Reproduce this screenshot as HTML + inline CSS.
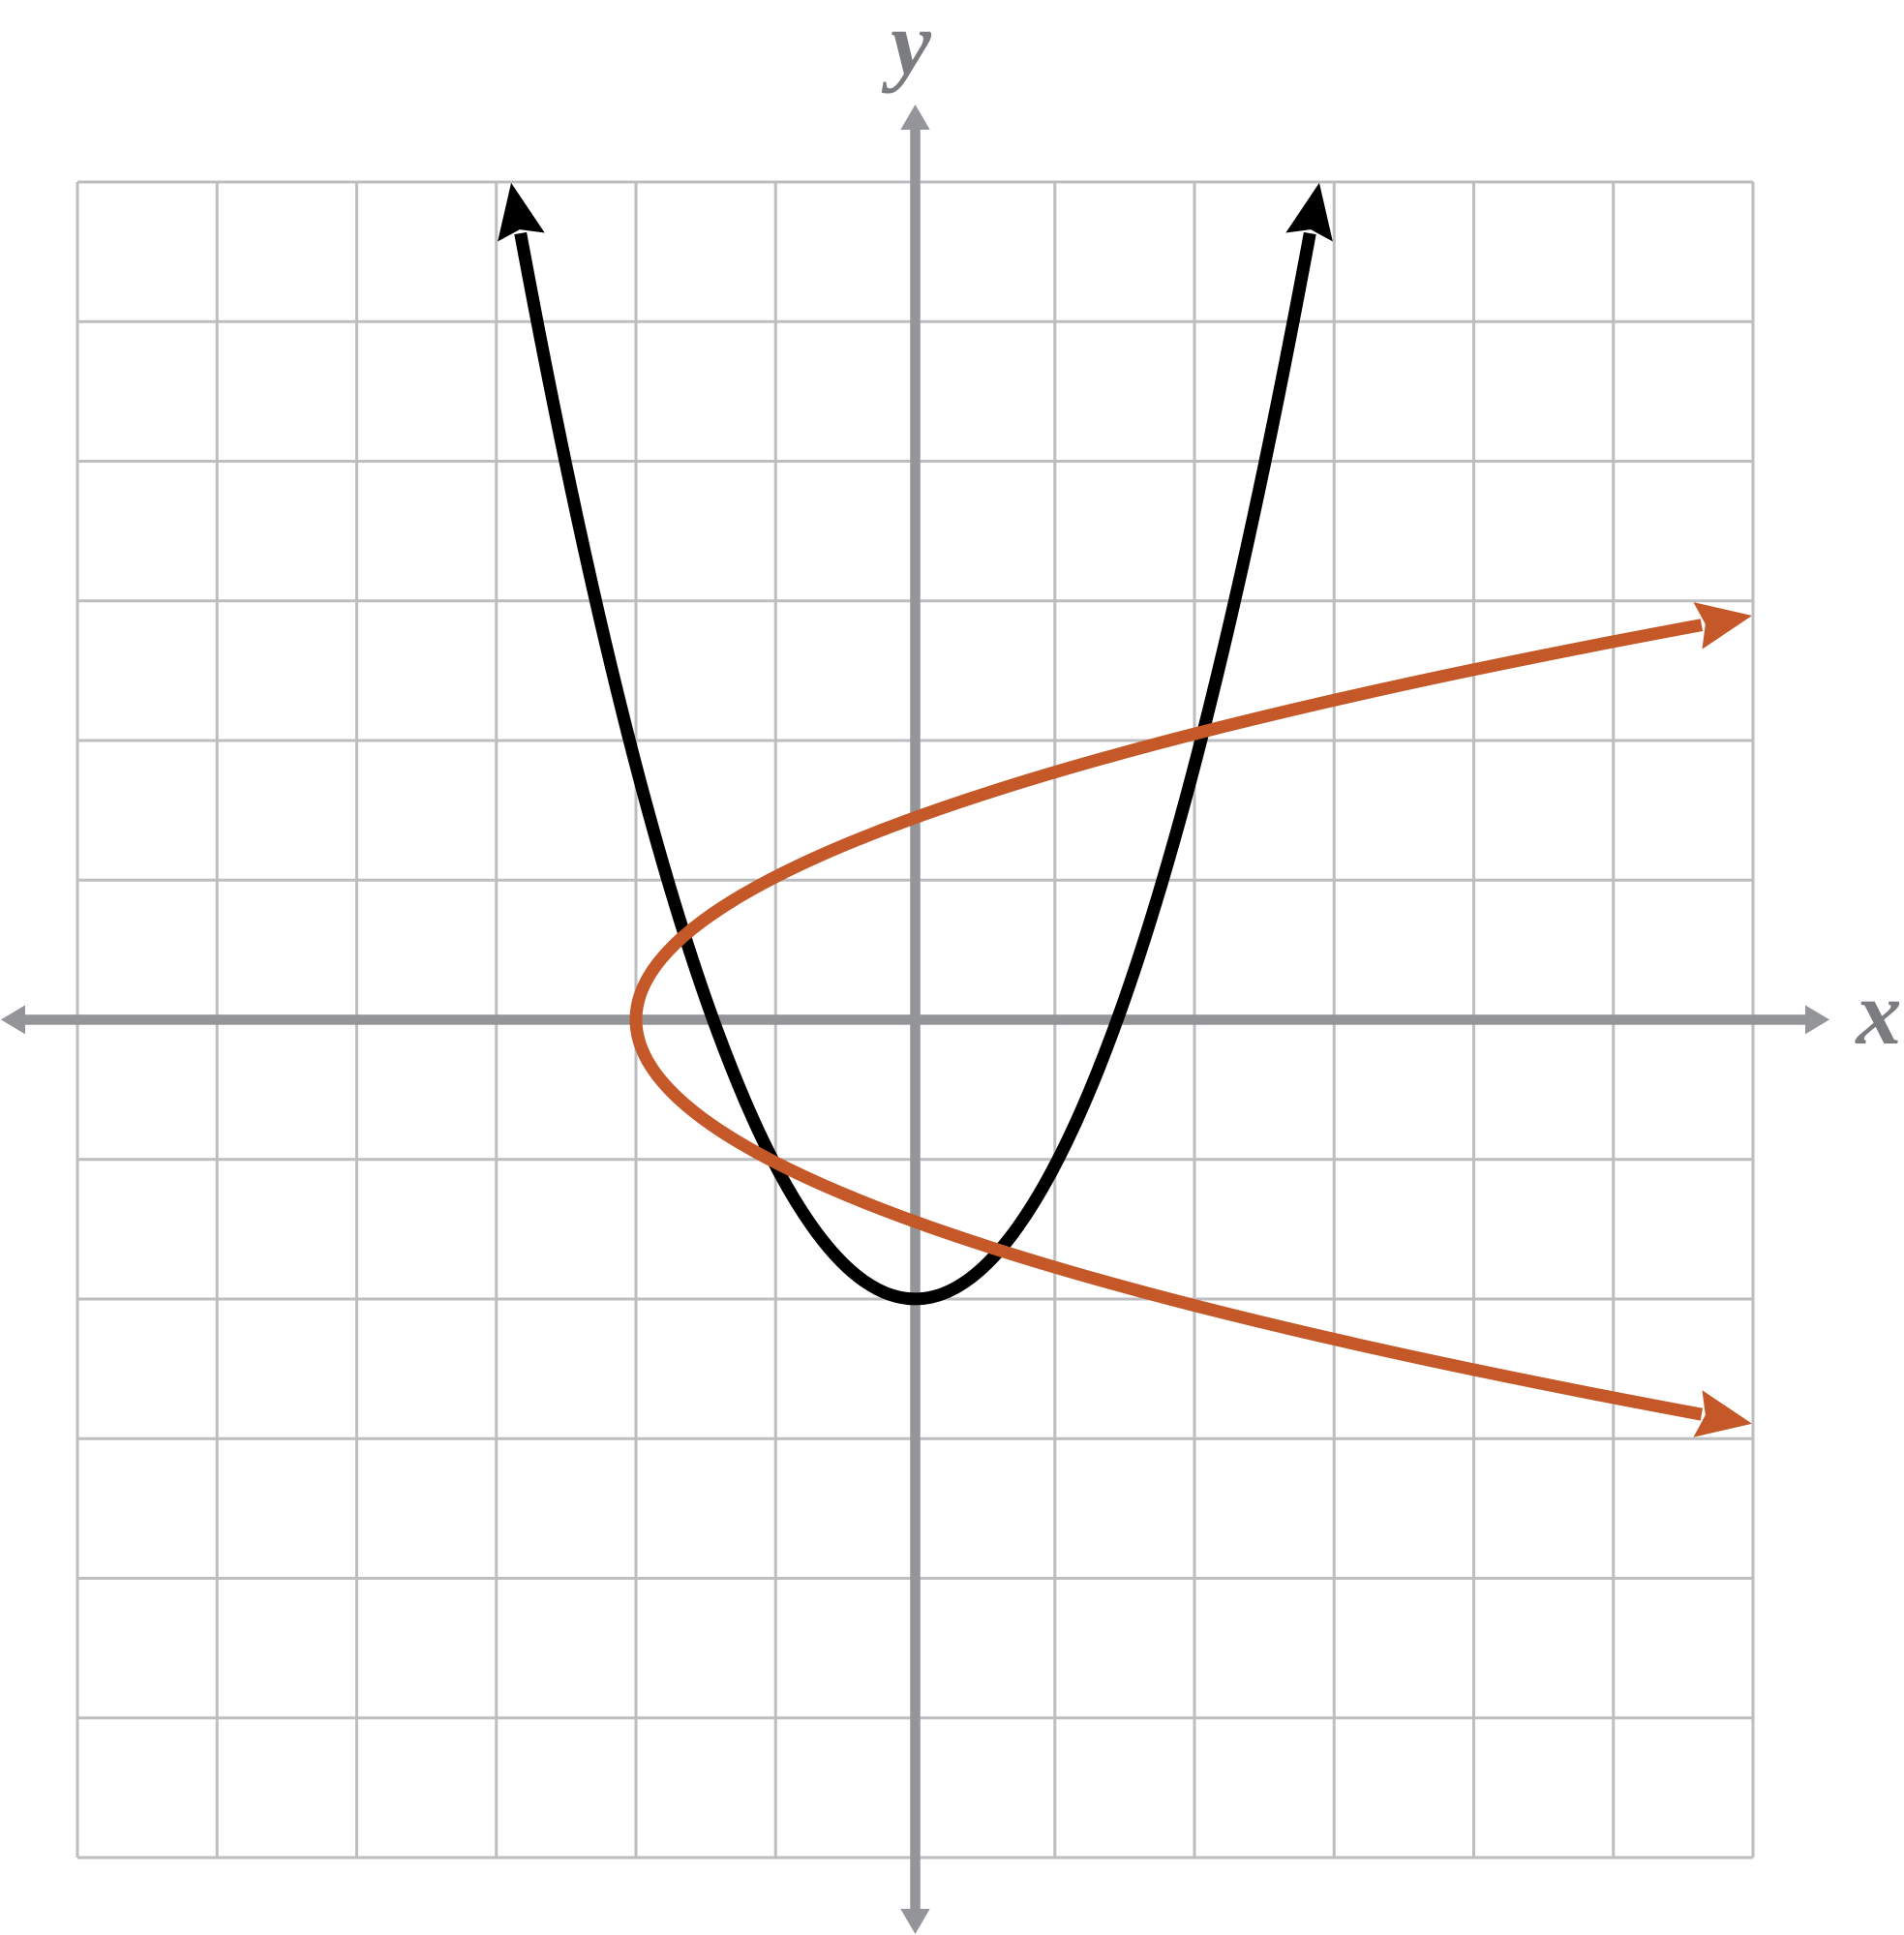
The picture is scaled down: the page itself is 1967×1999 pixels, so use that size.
<!DOCTYPE html>
<html>
<head>
<meta charset="utf-8">
<style>
  html, body { margin: 0; padding: 0; background: #ffffff; }
  svg { display: block; }
</style>
</head>
<body>
<svg width="1967" height="1999" viewBox="0 0 1967 1999" xmlns="http://www.w3.org/2000/svg">
  <rect x="0" y="0" width="1967" height="1999" fill="#ffffff"/>
  <!-- grid -->
  <g stroke="#bcbec0" stroke-width="3" fill="none">
    <line x1="80" y1="188" x2="80" y2="1919"/>
    <line x1="224.25" y1="188" x2="224.25" y2="1919"/>
    <line x1="368.5" y1="188" x2="368.5" y2="1919"/>
    <line x1="512.75" y1="188" x2="512.75" y2="1919"/>
    <line x1="657" y1="188" x2="657" y2="1919"/>
    <line x1="801.25" y1="188" x2="801.25" y2="1919"/>
    <line x1="945.5" y1="188" x2="945.5" y2="1919"/>
    <line x1="1089.75" y1="188" x2="1089.75" y2="1919"/>
    <line x1="1234" y1="188" x2="1234" y2="1919"/>
    <line x1="1378.25" y1="188" x2="1378.25" y2="1919"/>
    <line x1="1522.5" y1="188" x2="1522.5" y2="1919"/>
    <line x1="1666.75" y1="188" x2="1666.75" y2="1919"/>
    <line x1="1811" y1="188" x2="1811" y2="1919"/>

    <line x1="80" y1="188" x2="1811" y2="188"/>
    <line x1="80" y1="332.25" x2="1811" y2="332.25"/>
    <line x1="80" y1="476.5" x2="1811" y2="476.5"/>
    <line x1="80" y1="620.75" x2="1811" y2="620.75"/>
    <line x1="80" y1="765" x2="1811" y2="765"/>
    <line x1="80" y1="909.25" x2="1811" y2="909.25"/>
    <line x1="80" y1="1053.5" x2="1811" y2="1053.5"/>
    <line x1="80" y1="1197.75" x2="1811" y2="1197.75"/>
    <line x1="80" y1="1342" x2="1811" y2="1342"/>
    <line x1="80" y1="1486.25" x2="1811" y2="1486.25"/>
    <line x1="80" y1="1630.5" x2="1811" y2="1630.5"/>
    <line x1="80" y1="1774.75" x2="1811" y2="1774.75"/>
    <line x1="80" y1="1919" x2="1811" y2="1919"/>
  </g>

  <!-- axes -->
  <g fill="#939598" stroke="none">
    <rect x="20" y="1048.2" width="1852" height="10.5"/>
    <polygon points="1,1053.4 26,1038.4 26,1068.4"/>
    <polygon points="1890,1053.4 1865,1038.4 1865,1068.4"/>
    <rect x="940.25" y="125" width="10.5" height="1852"/>
    <polygon points="945.5,108 930.3,134 960.7,134"/>
    <polygon points="945.5,1998 930.3,1972 960.7,1972"/>
  </g>

  <!-- black parabola y = 0.955x^2 - 2 -->
  <path d="M537.7,241.0 Q945.5,2442.8 1353.3,241.0" fill="none" stroke="#000000" stroke-width="13"/>
  <polygon points="0,0 -57,-24.7 -49,0 -57,24.7" fill="#000000" transform="translate(528.05,188.9) rotate(-100.49)"/>
  <polygon points="0,0 -57,-24.7 -49,0 -57,24.7" fill="#000000" transform="translate(1362.95,188.9) rotate(-79.51)"/>

  <!-- orange sideways parabola x = 0.955y^2 - 2 -->
  <path d="M1757.9,645.6 Q-443.9,1053.4 1757.9,1461.2" fill="none" stroke="#c45828" stroke-width="13"/>
  <polygon points="0,0 -57,-24.7 -49,0 -57,24.7" fill="#c45828" transform="translate(1810,636) rotate(-10.49)"/>
  <polygon points="0,0 -57,-24.7 -49,0 -57,24.7" fill="#c45828" transform="translate(1810,1470.8) rotate(10.49)"/>

  <!-- labels -->
  <text x="941" y="76" font-family="'Liberation Serif', serif" font-style="italic" font-weight="bold" font-size="94" fill="#7b7c80" text-anchor="middle">y</text>
  <text x="1941" y="1078" font-family="'Liberation Serif', serif" font-style="italic" font-weight="bold" font-size="94" fill="#7b7c80" text-anchor="middle">x</text>
</svg>
</body>
</html>
